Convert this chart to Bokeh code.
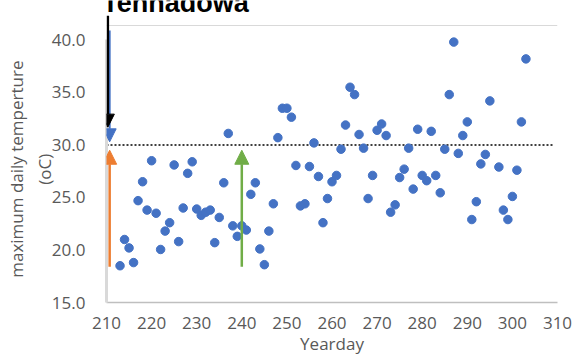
import math
from bokeh.plotting import figure
from bokeh.models import Range1d, Label, Arrow, NormalHead, FixedTicker, PrintfTickFormatter, Span
from bokeh.embed import file_html
from bokeh.resources import INLINE

# ---- data ----
yeardays = [213, 214, 215, 216, 217, 218, 219, 220, 221, 222, 223, 224, 225, 226, 227, 228, 229, 230,
            231, 232, 233, 234, 235, 236, 237, 238, 239, 240, 241, 242, 243, 244, 245, 246, 247, 248,
            249, 250, 251, 252, 253, 254, 255, 256, 257, 258, 259, 260, 261, 262, 263, 264, 265, 266,
            267, 268, 269, 270, 271, 272, 273, 274, 275, 276, 277, 278, 279, 280, 281, 282, 283, 284,
            285, 286, 287, 288, 289, 290, 291, 292, 293, 294, 295, 297, 298, 299, 300, 301, 302, 303]
tmax = [18.5, 21.0, 20.2, 18.8, 24.7, 26.5, 23.8, 28.5, 23.5, 20.05, 21.8, 22.6, 28.1, 20.8, 24.0, 27.3,
        28.4, 23.9, 23.3, 23.6, 23.8, 20.7, 23.1, 26.4, 31.1, 22.3, 21.3, 22.3, 21.9, 25.3, 26.4, 20.1,
        18.6, 21.8, 24.4, 30.7, 33.5, 33.5, 32.65, 28.05, 24.2, 24.4, 27.95, 30.2, 27.0, 22.6, 24.9, 26.5,
        27.1, 29.6, 31.9, 35.5, 34.8, 31.0, 29.7, 24.9, 27.1, 31.4, 32.0, 30.9, 23.6, 24.3, 26.9, 27.7,
        29.7, 25.8, 31.5, 27.1, 26.6, 31.3, 27.1, 25.45, 29.6, 34.8, 39.8, 29.2, 30.9, 32.2, 22.9, 24.6,
        28.2, 29.1, 34.2, 27.9, 23.8, 22.9, 25.1, 27.6, 32.2, 38.2]
threshold = 30.0
x_ticks = [210, 220, 230, 240, 250, 260, 270, 280, 290, 300, 310]
y_ticks = [15, 20, 25, 30, 35, 40]

# arrows: (x, y_start, y_end)
black_arrow = (210.3, 42.3, 31.7)
blue_arrow = (210.7, 40.9, 30.3)
orange_arrow = (210.7, 18.4, 29.5)
green_arrow = (240.0, 18.4, 29.5)

BLUE = "#4472C4"
ORANGE = "#ED7D31"
GREEN = "#70AD47"
GREY_TXT = "#595959"
FONT = "Open Sans"
NB = "\u00a0" * 8

p = figure(width=574, height=359, x_range=Range1d(210, 310), y_range=Range1d(15, 43.76),
           output_backend="svg", toolbar_location=None,
           min_border_left=106, min_border_right=17, min_border_top=0, min_border_bottom=57)
p.outline_line_color = None
p.grid.visible = False
p.background_fill_color = "white"
p.border_fill_color = "white"

for ax in (p.xaxis[0], p.yaxis[0]):
    ax.major_tick_line_color = None
    ax.minor_tick_line_color = None
    ax.major_label_text_font = FONT
    ax.major_label_text_font_size = "17px"
    ax.major_label_text_color = GREY_TXT
    ax.axis_label_text_font = FONT
    ax.axis_label_text_font_size = "17px"
    ax.axis_label_text_font_style = "normal"
    ax.axis_label_text_color = GREY_TXT
    ax.axis_label_standoff = 0

p.xaxis.ticker = FixedTicker(ticks=x_ticks)
p.yaxis.ticker = FixedTicker(ticks=y_ticks)
p.yaxis.formatter = PrintfTickFormatter(format="%.1f")
p.xaxis.bounds = (210, 310)
p.yaxis.bounds = (15, 40)
p.xaxis.axis_line_color = "#bfbfbf"
p.xaxis.axis_line_width = 1.5
p.yaxis.axis_line_color = "#d9d9d9"
p.yaxis.axis_line_width = 3
p.xaxis.major_label_standoff = 8
p.yaxis.major_label_standoff = 15
p.xaxis.axis_label = "Yearday"
p.yaxis.axis_label = "maximum daily temperture" + NB + "\n(oC)" + NB
p.yaxis.axis_label_text_line_height = 1.2
p.yaxis.axis_label_standoff = -7

# faint top rule of the chart area
p.add_layout(Span(location=41.38, dimension="width", line_color="#d9d9d9", line_width=1))

# threshold line
p.line([210, 309], [threshold, threshold], line_color="black", line_width=1.6, line_dash="2 2")

# scatter
p.scatter(yeardays, tmax, size=8.5, marker="circle", fill_color=BLUE, line_color=BLUE)

def add_arrow(spec, color, width, head):
    x, y0, y1 = spec
    p.add_layout(Arrow(x_start=x, y_start=y0, x_end=x, y_end=y1, line_color=color, line_width=width,
                       end=NormalHead(size=head, fill_color=color, line_color=color, line_width=1)))

add_arrow(blue_arrow, BLUE, 2, 13)
add_arrow(black_arrow, "black", 2.5, 13)
add_arrow(orange_arrow, ORANGE, 2.5, 14)
add_arrow(green_arrow, GREEN, 2.5, 14)

# cropped title at the very top (screen units, from the frame's bottom-left corner)
p.add_layout(Label(x=69, y=299.5, x_units="screen", y_units="screen", text="Tennadowa",
                   text_font="Liberation Sans", text_font_style="bold", text_font_size="27px",
                   text_color="black", text_align="center", text_baseline="alphabetic"))

open("out.html", "w").write(file_html(p, INLINE))
